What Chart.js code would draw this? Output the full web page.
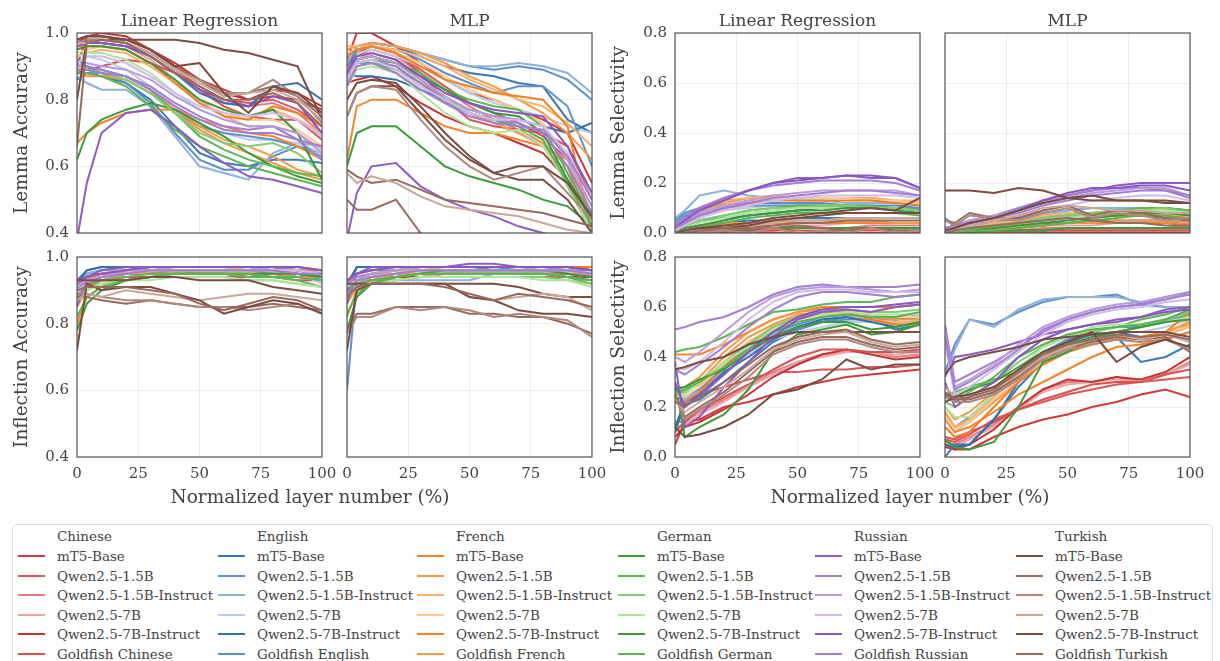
<!DOCTYPE html>
<html lang="en">
<head>
  <meta charset="UTF-8" />
  <title>Lemma and inflection probes by layer</title>
  <script src="https://cdn.jsdelivr.net/npm/chart.js"></script>
  <style>
    body { margin: 0; background: #fff; font-family: "DejaVu Serif", serif; color: #444; }
    #fig { position: relative; width: 1220px; height: 661px; overflow: hidden; }
    .panel { position: absolute; }
    .lbl { position: absolute; white-space: nowrap; transform: translateX(-50%); line-height: 1.2; }
    .ptitle { font-size: 17px; }
    .xtitle { font-size: 18.5px; }
    #legend { position: absolute; left: 12px; top: 524px; width: 1199px; height: 145px;
              border: 1px solid #dcdcdc; border-radius: 5px; }
    .lg-text { position: absolute; font-size: 13.5px; line-height: 16px; margin-top: -8px; white-space: nowrap; color: #444; }
    .lg-line { position: absolute; width: 27px; height: 2px; margin-top: -1px; }
  </style>
</head>
<body>
<div id="fig"></div>
<script>
  const LANGS = ['Chinese', 'English', 'French', 'German', 'Russian', 'Turkish'];
  const MODELS = ['mT5-Base', 'Qwen2.5-1.5B', 'Qwen2.5-1.5B-Instruct', 'Qwen2.5-7B', 'Qwen2.5-7B-Instruct', 'Goldfish'];
  const COLORS = [
    ['#d03a3a', '#dc5656', '#e27d7d', '#eaa5aa', '#c63232', '#d9514e'],
    ['#3a78b5', '#5b8fcb', '#8eb2da', '#bccce3', '#3570b0', '#5e92c8'],
    ['#f5842b', '#f79a48', '#f9b06c', '#fbc995', '#f37f22', '#f69845'],
    ['#3a9c3a', '#5cb854', '#82cc73', '#aee3a0', '#3c983c', '#5cb450'],
    ['#8c5cc2', '#a47ed2', '#b99ade', '#d2bbe9', '#8a56c0', '#a47ed2'],
    ['#7b4d43', '#98695e', '#b0897e', '#c9a898', '#7a4b41', '#98695e']
  ];
  // normalized layer positions (%)
  const X = [0, 4, 10, 20, 30, 40, 50, 60, 70, 80, 90, 100];
  const X_TICKS = [0, 25, 50, 75, 100];

  // rows: language by language, models in MODELS order
  const lemmaAccLR = [
    [0.90,0.99,1.00,0.99,0.95,0.90,0.86,0.83,0.80,0.81,0.80,0.77],
    [0.97,0.98,0.98,0.97,0.94,0.89,0.84,0.80,0.79,0.80,0.77,0.72],
    [0.97,0.97,0.98,0.97,0.93,0.88,0.83,0.79,0.78,0.79,0.76,0.70],
    [0.96,0.97,0.97,0.96,0.92,0.86,0.80,0.75,0.72,0.72,0.70,0.65],
    [0.97,0.99,0.99,0.98,0.95,0.91,0.86,0.82,0.80,0.83,0.82,0.78],
    [0.88,0.89,0.90,0.92,0.91,0.88,0.83,0.78,0.75,0.74,0.74,0.68],
    [0.86,0.88,0.87,0.85,0.80,0.72,0.64,0.61,0.60,0.62,0.62,0.61],
    [0.92,0.90,0.88,0.85,0.79,0.70,0.62,0.59,0.59,0.63,0.66,0.64],
    [0.87,0.85,0.83,0.83,0.78,0.69,0.60,0.58,0.56,0.64,0.67,0.66],
    [0.93,0.93,0.92,0.89,0.84,0.78,0.72,0.70,0.68,0.68,0.67,0.64],
    [0.97,0.98,0.97,0.96,0.93,0.88,0.82,0.79,0.78,0.84,0.85,0.80],
    [0.88,0.88,0.88,0.86,0.82,0.76,0.72,0.70,0.69,0.68,0.66,0.63],
    [0.67,0.70,0.73,0.76,0.77,0.77,0.74,0.72,0.70,0.69,0.66,0.62],
    [0.89,0.89,0.88,0.87,0.83,0.77,0.72,0.68,0.66,0.63,0.59,0.57],
    [0.93,0.94,0.95,0.94,0.90,0.85,0.80,0.77,0.75,0.77,0.74,0.70],
    [0.94,0.95,0.96,0.95,0.91,0.85,0.79,0.76,0.74,0.74,0.71,0.66],
    [0.96,0.96,0.96,0.95,0.91,0.85,0.79,0.75,0.74,0.78,0.76,0.72],
    [0.88,0.87,0.87,0.86,0.82,0.76,0.71,0.67,0.64,0.61,0.58,0.56],
    [0.62,0.70,0.74,0.77,0.79,0.77,0.73,0.69,0.64,0.60,0.57,0.55],
    [0.90,0.90,0.89,0.87,0.83,0.76,0.69,0.65,0.62,0.60,0.58,0.57],
    [0.89,0.89,0.88,0.86,0.82,0.76,0.70,0.67,0.66,0.67,0.64,0.58],
    [0.93,0.94,0.94,0.92,0.88,0.82,0.77,0.74,0.72,0.72,0.68,0.62],
    [0.95,0.96,0.96,0.95,0.91,0.86,0.80,0.77,0.75,0.77,0.70,0.56],
    [0.88,0.88,0.87,0.84,0.78,0.71,0.66,0.63,0.60,0.58,0.56,0.54],
    [0.38,0.55,0.70,0.76,0.77,0.72,0.66,0.61,0.57,0.56,0.54,0.52],
    [0.90,0.90,0.89,0.87,0.84,0.79,0.75,0.72,0.71,0.72,0.68,0.62],
    [0.90,0.91,0.90,0.89,0.86,0.81,0.77,0.74,0.72,0.72,0.70,0.64],
    [0.91,0.93,0.93,0.91,0.87,0.82,0.78,0.76,0.75,0.76,0.74,0.69],
    [0.96,0.97,0.97,0.96,0.93,0.88,0.83,0.80,0.78,0.81,0.79,0.70],
    [0.89,0.89,0.88,0.87,0.83,0.78,0.74,0.71,0.70,0.70,0.68,0.66],
    [0.80,0.98,0.98,0.98,0.98,0.98,0.97,0.95,0.94,0.92,0.90,0.74],
    [0.98,0.99,0.99,0.98,0.95,0.90,0.86,0.81,0.82,0.84,0.81,0.75],
    [0.97,0.98,0.98,0.97,0.94,0.89,0.86,0.82,0.82,0.86,0.81,0.73],
    [0.97,0.97,0.98,0.97,0.94,0.89,0.85,0.81,0.82,0.83,0.80,0.74],
    [0.98,0.99,0.99,0.98,0.95,0.90,0.91,0.82,0.76,0.84,0.82,0.76],
    [0.66,0.97,0.98,0.97,0.93,0.88,0.84,0.80,0.80,0.82,0.79,0.72]
  ];

  const lemmaAccMLP = [
    [0.92,1.00,1.00,0.96,0.91,0.86,0.82,0.80,0.77,0.74,0.70,0.55],
    [0.90,0.94,0.96,0.94,0.89,0.84,0.79,0.76,0.73,0.69,0.62,0.45],
    [0.89,0.93,0.95,0.93,0.88,0.83,0.78,0.74,0.71,0.67,0.60,0.42],
    [0.88,0.92,0.94,0.92,0.86,0.80,0.76,0.73,0.70,0.66,0.58,0.40],
    [0.85,0.86,0.87,0.84,0.79,0.75,0.72,0.70,0.67,0.64,0.56,0.45],
    [0.90,0.95,0.96,0.94,0.88,0.80,0.74,0.72,0.71,0.70,0.66,0.50],
    [0.86,0.96,0.97,0.96,0.93,0.90,0.88,0.87,0.85,0.84,0.74,0.70],
    [0.90,0.96,0.97,0.96,0.94,0.92,0.90,0.89,0.90,0.89,0.86,0.80],
    [0.91,0.96,0.97,0.96,0.94,0.92,0.90,0.90,0.91,0.90,0.88,0.82],
    [0.86,0.94,0.95,0.93,0.90,0.86,0.82,0.79,0.77,0.75,0.72,0.70],
    [0.88,0.87,0.87,0.86,0.83,0.80,0.77,0.75,0.74,0.72,0.70,0.73],
    [0.85,0.95,0.96,0.95,0.92,0.88,0.85,0.82,0.84,0.84,0.78,0.60],
    [0.62,0.78,0.80,0.80,0.76,0.72,0.70,0.70,0.68,0.66,0.62,0.45],
    [0.95,0.96,0.97,0.96,0.94,0.91,0.87,0.84,0.80,0.76,0.70,0.62],
    [0.96,0.96,0.96,0.95,0.93,0.90,0.86,0.83,0.80,0.78,0.73,0.66],
    [0.94,0.95,0.96,0.94,0.91,0.87,0.83,0.80,0.77,0.73,0.62,0.45],
    [0.93,0.95,0.96,0.94,0.90,0.86,0.84,0.82,0.81,0.80,0.72,0.40],
    [0.88,0.92,0.93,0.91,0.86,0.80,0.76,0.73,0.70,0.67,0.60,0.48],
    [0.60,0.70,0.72,0.72,0.66,0.60,0.57,0.55,0.53,0.50,0.48,0.42],
    [0.86,0.91,0.92,0.91,0.88,0.83,0.80,0.78,0.77,0.72,0.58,0.45],
    [0.85,0.90,0.91,0.90,0.85,0.80,0.77,0.75,0.72,0.68,0.54,0.40],
    [0.84,0.89,0.90,0.88,0.82,0.76,0.72,0.70,0.71,0.66,0.55,0.40],
    [0.87,0.92,0.93,0.91,0.87,0.83,0.79,0.76,0.75,0.70,0.56,0.44],
    [0.86,0.91,0.91,0.89,0.85,0.79,0.76,0.74,0.72,0.68,0.55,0.42],
    [0.38,0.52,0.60,0.61,0.54,0.50,0.47,0.45,0.42,0.40,0.38,0.36],
    [0.86,0.91,0.92,0.90,0.85,0.80,0.76,0.74,0.73,0.70,0.60,0.46],
    [0.87,0.92,0.93,0.91,0.86,0.81,0.77,0.75,0.74,0.72,0.62,0.48],
    [0.86,0.91,0.92,0.89,0.84,0.80,0.76,0.74,0.74,0.72,0.64,0.50],
    [0.88,0.93,0.94,0.92,0.87,0.82,0.79,0.77,0.76,0.75,0.66,0.52],
    [0.84,0.90,0.91,0.88,0.83,0.79,0.75,0.73,0.72,0.71,0.63,0.50],
    [0.75,0.82,0.84,0.84,0.76,0.68,0.62,0.58,0.56,0.56,0.50,0.40],
    [0.59,0.57,0.55,0.56,0.53,0.50,0.49,0.48,0.47,0.46,0.44,0.42],
    [0.75,0.82,0.84,0.83,0.74,0.66,0.60,0.56,0.58,0.60,0.52,0.44],
    [0.58,0.55,0.57,0.55,0.51,0.48,0.47,0.46,0.45,0.43,0.41,0.40],
    [0.80,0.85,0.86,0.85,0.78,0.70,0.63,0.58,0.60,0.60,0.55,0.45],
    [0.50,0.47,0.47,0.50,0.40,0.36,0.34,0.32,0.30,0.30,0.30,0.30]
  ];

  const lemmaSelLR = [
    [0.00,0.00,0.00,0.00,0.00,0.00,0.00,0.00,0.00,0.00,0.00,0.00],
    [0.01,0.01,0.02,0.02,0.02,0.02,0.02,0.02,0.02,0.02,0.02,0.02],
    [0.01,0.01,0.01,0.02,0.02,0.02,0.02,0.02,0.02,0.03,0.03,0.03],
    [0.01,0.02,0.02,0.03,0.03,0.03,0.03,0.03,0.04,0.04,0.04,0.04],
    [0.00,0.01,0.01,0.01,0.01,0.01,0.02,0.02,0.02,0.02,0.02,0.02],
    [0.00,0.00,0.00,0.01,0.01,0.01,0.01,0.01,0.01,0.01,0.01,0.01],
    [0.01,0.02,0.03,0.04,0.05,0.05,0.06,0.06,0.06,0.06,0.06,0.06],
    [0.05,0.08,0.10,0.11,0.12,0.12,0.12,0.12,0.11,0.11,0.11,0.10],
    [0.06,0.09,0.15,0.17,0.15,0.14,0.13,0.13,0.12,0.12,0.12,0.11],
    [0.03,0.05,0.07,0.09,0.10,0.11,0.11,0.11,0.11,0.10,0.10,0.10],
    [0.02,0.03,0.05,0.06,0.07,0.08,0.09,0.10,0.10,0.10,0.10,0.09],
    [0.04,0.07,0.09,0.10,0.11,0.11,0.11,0.11,0.11,0.10,0.10,0.10],
    [0.00,0.01,0.02,0.03,0.03,0.04,0.04,0.04,0.04,0.04,0.04,0.04],
    [0.03,0.06,0.09,0.12,0.14,0.14,0.14,0.14,0.14,0.14,0.13,0.12],
    [0.03,0.06,0.10,0.13,0.14,0.15,0.14,0.14,0.14,0.14,0.13,0.13],
    [0.02,0.05,0.08,0.11,0.13,0.14,0.14,0.14,0.14,0.13,0.13,0.12],
    [0.02,0.04,0.07,0.10,0.12,0.13,0.13,0.13,0.13,0.13,0.12,0.11],
    [0.01,0.02,0.03,0.04,0.04,0.05,0.05,0.05,0.05,0.05,0.04,0.04],
    [0.00,0.01,0.01,0.01,0.01,0.02,0.02,0.02,0.02,0.02,0.02,0.02],
    [0.01,0.03,0.05,0.07,0.09,0.10,0.11,0.11,0.11,0.11,0.10,0.09],
    [0.01,0.03,0.05,0.07,0.09,0.10,0.10,0.11,0.11,0.10,0.10,0.09],
    [0.01,0.02,0.04,0.06,0.08,0.09,0.10,0.10,0.10,0.10,0.09,0.08],
    [0.01,0.02,0.03,0.05,0.07,0.08,0.09,0.09,0.10,0.10,0.09,0.08],
    [0.00,0.01,0.02,0.04,0.06,0.07,0.08,0.08,0.08,0.08,0.08,0.07],
    [0.02,0.06,0.10,0.14,0.17,0.20,0.22,0.22,0.23,0.23,0.22,0.18],
    [0.03,0.06,0.10,0.14,0.17,0.19,0.20,0.21,0.21,0.21,0.20,0.17],
    [0.02,0.05,0.08,0.11,0.13,0.15,0.16,0.17,0.17,0.17,0.17,0.15],
    [0.01,0.03,0.06,0.09,0.11,0.13,0.14,0.15,0.15,0.15,0.15,0.14],
    [0.02,0.05,0.09,0.13,0.17,0.20,0.21,0.22,0.23,0.22,0.22,0.18],
    [0.02,0.04,0.07,0.10,0.12,0.14,0.15,0.16,0.17,0.17,0.16,0.15],
    [0.00,0.01,0.02,0.03,0.04,0.06,0.07,0.08,0.09,0.10,0.09,0.14],
    [0.00,0.00,0.01,0.01,0.01,0.02,0.03,0.02,0.01,0.02,0.01,0.01],
    [0.00,0.00,0.00,0.01,0.00,0.02,0.00,0.01,0.00,0.02,0.00,0.01],
    [0.00,0.01,0.01,0.02,0.03,0.04,0.05,0.05,0.06,0.06,0.06,0.06],
    [0.00,0.01,0.02,0.02,0.03,0.05,0.06,0.07,0.08,0.08,0.08,0.08],
    [0.00,0.00,0.01,0.02,0.02,0.03,0.04,0.04,0.05,0.05,0.05,0.05]
  ];

  const lemmaSelMLP = [
    [0.00,0.00,0.00,0.00,0.00,0.00,0.00,0.00,0.00,0.00,0.00,0.00],
    [0.00,0.00,0.01,0.01,0.01,0.01,0.02,0.02,0.02,0.02,0.02,0.02],
    [0.00,0.00,0.01,0.01,0.01,0.02,0.02,0.02,0.02,0.02,0.02,0.03],
    [0.00,0.01,0.01,0.02,0.02,0.03,0.03,0.03,0.04,0.04,0.04,0.04],
    [0.00,0.00,0.00,0.01,0.01,0.01,0.01,0.01,0.01,0.01,0.01,0.01],
    [0.00,0.00,0.00,0.00,0.00,0.01,0.01,0.01,0.01,0.01,0.01,0.01],
    [0.01,0.01,0.02,0.02,0.03,0.04,0.04,0.05,0.05,0.05,0.05,0.04],
    [0.06,0.03,0.04,0.05,0.06,0.08,0.09,0.10,0.10,0.10,0.10,0.09],
    [0.05,0.03,0.04,0.05,0.07,0.08,0.09,0.10,0.10,0.10,0.10,0.09],
    [0.02,0.02,0.03,0.04,0.05,0.06,0.07,0.08,0.08,0.08,0.07,0.06],
    [0.01,0.01,0.02,0.03,0.04,0.05,0.06,0.07,0.07,0.07,0.06,0.05],
    [0.02,0.02,0.03,0.04,0.06,0.07,0.08,0.08,0.09,0.08,0.08,0.07],
    [0.00,0.00,0.01,0.02,0.03,0.03,0.04,0.04,0.04,0.04,0.04,0.03],
    [0.01,0.01,0.02,0.03,0.05,0.06,0.07,0.08,0.08,0.09,0.09,0.08],
    [0.01,0.01,0.02,0.04,0.05,0.07,0.08,0.08,0.09,0.09,0.09,0.08],
    [0.00,0.01,0.02,0.03,0.04,0.05,0.06,0.07,0.08,0.08,0.08,0.07],
    [0.00,0.01,0.01,0.02,0.03,0.05,0.06,0.06,0.07,0.07,0.07,0.06],
    [0.00,0.00,0.01,0.01,0.02,0.03,0.04,0.04,0.05,0.05,0.05,0.04],
    [0.00,0.00,0.00,0.01,0.01,0.01,0.02,0.02,0.02,0.02,0.02,0.02],
    [0.01,0.01,0.02,0.03,0.04,0.06,0.07,0.08,0.09,0.10,0.10,0.09],
    [0.01,0.01,0.02,0.03,0.04,0.06,0.07,0.08,0.09,0.09,0.10,0.08],
    [0.00,0.01,0.01,0.02,0.03,0.05,0.06,0.07,0.08,0.09,0.09,0.08],
    [0.00,0.00,0.01,0.02,0.03,0.04,0.05,0.06,0.07,0.08,0.08,0.07],
    [0.00,0.00,0.01,0.01,0.02,0.03,0.04,0.05,0.06,0.07,0.07,0.05],
    [0.01,0.02,0.04,0.06,0.09,0.13,0.15,0.17,0.19,0.20,0.20,0.20],
    [0.02,0.03,0.05,0.07,0.10,0.13,0.15,0.17,0.18,0.18,0.17,0.14],
    [0.02,0.03,0.05,0.07,0.09,0.12,0.14,0.16,0.17,0.18,0.18,0.15],
    [0.01,0.02,0.03,0.05,0.07,0.09,0.11,0.13,0.14,0.15,0.15,0.13],
    [0.01,0.02,0.04,0.06,0.09,0.13,0.16,0.18,0.18,0.19,0.19,0.17],
    [0.02,0.03,0.04,0.06,0.08,0.11,0.13,0.15,0.16,0.17,0.17,0.15],
    [0.17,0.17,0.17,0.16,0.18,0.17,0.14,0.13,0.13,0.13,0.13,0.12],
    [0.05,0.04,0.08,0.06,0.06,0.09,0.11,0.07,0.09,0.08,0.06,0.05],
    [0.05,0.03,0.07,0.06,0.05,0.08,0.10,0.06,0.08,0.07,0.05,0.06],
    [0.01,0.02,0.03,0.05,0.07,0.10,0.11,0.10,0.09,0.09,0.08,0.08],
    [0.01,0.02,0.04,0.06,0.09,0.12,0.14,0.15,0.13,0.13,0.12,0.12],
    [0.00,0.01,0.02,0.03,0.04,0.05,0.06,0.05,0.04,0.04,0.03,0.03]
  ];

  const inflAccLR = [
    [0.91,0.92,0.93,0.93,0.94,0.94,0.94,0.94,0.94,0.94,0.94,0.93],
    [0.92,0.94,0.95,0.95,0.95,0.95,0.95,0.95,0.95,0.95,0.95,0.94],
    [0.92,0.94,0.95,0.95,0.95,0.96,0.95,0.95,0.95,0.95,0.95,0.94],
    [0.92,0.93,0.94,0.95,0.95,0.95,0.95,0.95,0.95,0.95,0.94,0.94],
    [0.92,0.94,0.95,0.95,0.95,0.95,0.95,0.95,0.94,0.95,0.94,0.94],
    [0.90,0.92,0.93,0.94,0.94,0.94,0.94,0.94,0.94,0.94,0.93,0.93],
    [0.93,0.96,0.97,0.97,0.97,0.97,0.97,0.97,0.97,0.97,0.96,0.95],
    [0.91,0.95,0.96,0.97,0.97,0.97,0.97,0.97,0.97,0.96,0.96,0.94],
    [0.90,0.95,0.96,0.96,0.97,0.97,0.97,0.97,0.96,0.96,0.95,0.93],
    [0.89,0.93,0.95,0.96,0.96,0.96,0.96,0.96,0.96,0.95,0.95,0.92],
    [0.92,0.96,0.97,0.97,0.97,0.97,0.97,0.97,0.97,0.97,0.96,0.95],
    [0.90,0.94,0.95,0.96,0.96,0.96,0.96,0.96,0.96,0.95,0.95,0.93],
    [0.80,0.88,0.91,0.95,0.96,0.96,0.96,0.96,0.96,0.96,0.96,0.96],
    [0.92,0.93,0.95,0.96,0.97,0.97,0.97,0.97,0.97,0.97,0.96,0.96],
    [0.92,0.93,0.95,0.96,0.96,0.97,0.97,0.97,0.96,0.96,0.96,0.95],
    [0.91,0.93,0.94,0.95,0.96,0.96,0.96,0.96,0.96,0.96,0.95,0.95],
    [0.92,0.94,0.95,0.96,0.97,0.97,0.97,0.97,0.97,0.97,0.96,0.96],
    [0.85,0.90,0.93,0.95,0.95,0.95,0.95,0.95,0.95,0.95,0.94,0.94],
    [0.78,0.86,0.90,0.93,0.94,0.95,0.95,0.95,0.95,0.95,0.95,0.94],
    [0.88,0.91,0.93,0.94,0.95,0.95,0.95,0.95,0.94,0.94,0.93,0.91],
    [0.87,0.90,0.92,0.93,0.94,0.94,0.94,0.94,0.93,0.93,0.92,0.91],
    [0.86,0.90,0.92,0.93,0.93,0.94,0.94,0.94,0.93,0.93,0.92,0.91],
    [0.90,0.93,0.94,0.95,0.96,0.96,0.96,0.96,0.96,0.96,0.95,0.94],
    [0.82,0.88,0.91,0.93,0.94,0.95,0.95,0.95,0.95,0.94,0.94,0.93],
    [0.85,0.94,0.96,0.97,0.97,0.97,0.97,0.97,0.97,0.97,0.97,0.96],
    [0.92,0.93,0.94,0.96,0.97,0.97,0.97,0.97,0.97,0.97,0.96,0.95],
    [0.91,0.93,0.94,0.96,0.96,0.97,0.97,0.97,0.97,0.96,0.96,0.95],
    [0.90,0.92,0.94,0.95,0.96,0.96,0.96,0.96,0.96,0.96,0.96,0.95],
    [0.93,0.94,0.95,0.96,0.97,0.97,0.97,0.97,0.97,0.97,0.97,0.96],
    [0.88,0.92,0.94,0.95,0.96,0.96,0.96,0.96,0.96,0.96,0.95,0.95],
    [0.93,0.93,0.93,0.93,0.94,0.94,0.93,0.93,0.93,0.91,0.90,0.89],
    [0.88,0.88,0.87,0.86,0.87,0.86,0.85,0.85,0.85,0.86,0.85,0.84],
    [0.89,0.89,0.88,0.87,0.87,0.86,0.85,0.85,0.84,0.85,0.86,0.83],
    [0.87,0.89,0.88,0.90,0.89,0.88,0.87,0.88,0.89,0.89,0.88,0.87],
    [0.72,0.92,0.90,0.91,0.91,0.89,0.87,0.83,0.85,0.87,0.86,0.83],
    [0.90,0.91,0.91,0.91,0.90,0.89,0.86,0.84,0.86,0.88,0.87,0.84]
  ];

  const inflAccMLP = [
    [0.92,0.93,0.93,0.94,0.94,0.95,0.95,0.95,0.95,0.95,0.95,0.94],
    [0.92,0.93,0.94,0.95,0.95,0.95,0.95,0.95,0.95,0.95,0.95,0.95],
    [0.92,0.93,0.94,0.94,0.95,0.95,0.95,0.95,0.95,0.95,0.95,0.94],
    [0.91,0.93,0.93,0.94,0.94,0.95,0.95,0.95,0.95,0.95,0.94,0.94],
    [0.91,0.92,0.93,0.94,0.94,0.94,0.94,0.94,0.94,0.94,0.94,0.94],
    [0.90,0.92,0.93,0.93,0.94,0.94,0.94,0.94,0.94,0.94,0.94,0.93],
    [0.90,0.97,0.97,0.97,0.97,0.97,0.97,0.97,0.97,0.97,0.97,0.96],
    [0.60,0.93,0.95,0.96,0.96,0.96,0.96,0.97,0.96,0.96,0.96,0.95],
    [0.88,0.93,0.93,0.93,0.93,0.93,0.93,0.95,0.95,0.95,0.94,0.93],
    [0.89,0.94,0.95,0.96,0.96,0.96,0.96,0.96,0.96,0.96,0.95,0.94],
    [0.92,0.97,0.97,0.97,0.97,0.97,0.97,0.97,0.97,0.97,0.97,0.96],
    [0.90,0.95,0.96,0.96,0.96,0.96,0.96,0.96,0.96,0.96,0.95,0.94],
    [0.82,0.90,0.94,0.96,0.97,0.97,0.97,0.97,0.97,0.97,0.97,0.97],
    [0.92,0.93,0.95,0.96,0.97,0.97,0.97,0.97,0.97,0.97,0.97,0.97],
    [0.92,0.93,0.94,0.96,0.96,0.97,0.97,0.97,0.97,0.97,0.96,0.96],
    [0.91,0.93,0.94,0.95,0.96,0.96,0.96,0.96,0.96,0.96,0.96,0.95],
    [0.92,0.95,0.96,0.97,0.97,0.97,0.97,0.97,0.97,0.97,0.97,0.97],
    [0.86,0.91,0.93,0.95,0.95,0.96,0.96,0.96,0.96,0.96,0.95,0.95],
    [0.78,0.88,0.92,0.94,0.95,0.96,0.96,0.96,0.96,0.96,0.96,0.95],
    [0.90,0.92,0.93,0.94,0.95,0.95,0.95,0.95,0.95,0.95,0.94,0.92],
    [0.89,0.91,0.92,0.93,0.94,0.94,0.94,0.94,0.94,0.94,0.93,0.92],
    [0.88,0.91,0.92,0.93,0.94,0.94,0.94,0.94,0.94,0.93,0.93,0.91],
    [0.90,0.93,0.94,0.95,0.96,0.96,0.96,0.96,0.96,0.96,0.95,0.94],
    [0.83,0.89,0.92,0.94,0.95,0.95,0.95,0.95,0.95,0.95,0.94,0.93],
    [0.86,0.95,0.97,0.97,0.97,0.97,0.98,0.98,0.97,0.97,0.97,0.96],
    [0.92,0.94,0.95,0.96,0.97,0.97,0.97,0.97,0.97,0.97,0.96,0.96],
    [0.91,0.93,0.95,0.96,0.97,0.97,0.97,0.97,0.97,0.96,0.96,0.95],
    [0.91,0.93,0.94,0.95,0.96,0.96,0.96,0.96,0.96,0.96,0.96,0.95],
    [0.93,0.95,0.96,0.97,0.97,0.97,0.97,0.97,0.97,0.97,0.97,0.96],
    [0.89,0.93,0.94,0.95,0.96,0.96,0.96,0.96,0.96,0.96,0.96,0.95],
    [0.92,0.92,0.92,0.92,0.92,0.92,0.92,0.92,0.91,0.89,0.88,0.88],
    [0.78,0.83,0.83,0.85,0.85,0.85,0.83,0.83,0.82,0.82,0.80,0.77],
    [0.77,0.82,0.82,0.85,0.84,0.85,0.84,0.82,0.83,0.82,0.81,0.76],
    [0.88,0.91,0.92,0.92,0.92,0.92,0.88,0.87,0.88,0.89,0.88,0.84],
    [0.72,0.90,0.92,0.92,0.92,0.92,0.88,0.87,0.84,0.83,0.83,0.82],
    [0.88,0.91,0.92,0.92,0.92,0.91,0.89,0.87,0.89,0.88,0.87,0.85]
  ];

  const inflSelLR = [
    [0.05,0.14,0.15,0.20,0.22,0.25,0.28,0.30,0.32,0.33,0.34,0.35],
    [0.22,0.22,0.25,0.28,0.31,0.34,0.34,0.35,0.35,0.36,0.36,0.37],
    [0.14,0.14,0.18,0.23,0.28,0.34,0.38,0.41,0.42,0.42,0.40,0.41],
    [0.12,0.13,0.17,0.22,0.28,0.33,0.38,0.40,0.42,0.42,0.41,0.42],
    [0.08,0.12,0.14,0.19,0.25,0.32,0.37,0.41,0.43,0.41,0.39,0.40],
    [0.10,0.14,0.19,0.24,0.29,0.35,0.40,0.43,0.43,0.42,0.42,0.43],
    [0.10,0.21,0.23,0.30,0.38,0.46,0.51,0.54,0.56,0.55,0.51,0.53],
    [0.25,0.22,0.24,0.33,0.42,0.48,0.51,0.54,0.55,0.55,0.55,0.56],
    [0.26,0.23,0.26,0.35,0.44,0.49,0.52,0.55,0.56,0.56,0.55,0.57],
    [0.22,0.22,0.25,0.33,0.41,0.47,0.50,0.52,0.54,0.54,0.53,0.55],
    [0.12,0.22,0.25,0.34,0.40,0.47,0.52,0.55,0.56,0.54,0.52,0.54],
    [0.25,0.24,0.27,0.36,0.44,0.50,0.53,0.56,0.57,0.56,0.55,0.56],
    [0.41,0.41,0.41,0.45,0.50,0.55,0.58,0.60,0.60,0.60,0.60,0.61],
    [0.27,0.26,0.30,0.40,0.48,0.53,0.57,0.58,0.57,0.56,0.55,0.55],
    [0.27,0.26,0.29,0.38,0.46,0.52,0.56,0.57,0.57,0.55,0.54,0.54],
    [0.24,0.24,0.28,0.37,0.45,0.52,0.56,0.58,0.58,0.57,0.56,0.56],
    [0.22,0.22,0.26,0.36,0.45,0.51,0.55,0.58,0.58,0.55,0.53,0.53],
    [0.28,0.28,0.32,0.42,0.50,0.55,0.58,0.59,0.59,0.58,0.60,0.61],
    [0.30,0.08,0.12,0.17,0.27,0.42,0.49,0.51,0.53,0.49,0.50,0.53],
    [0.42,0.43,0.44,0.48,0.53,0.58,0.59,0.61,0.62,0.62,0.64,0.65],
    [0.25,0.26,0.30,0.38,0.45,0.52,0.56,0.58,0.59,0.58,0.58,0.59],
    [0.24,0.25,0.30,0.38,0.44,0.51,0.55,0.57,0.58,0.57,0.57,0.57],
    [0.27,0.28,0.31,0.35,0.42,0.48,0.52,0.54,0.54,0.51,0.52,0.54],
    [0.26,0.27,0.30,0.36,0.43,0.50,0.54,0.56,0.57,0.56,0.56,0.58],
    [0.38,0.12,0.16,0.28,0.38,0.48,0.55,0.58,0.59,0.58,0.60,0.61],
    [0.51,0.52,0.54,0.56,0.60,0.65,0.68,0.69,0.68,0.68,0.68,0.69],
    [0.40,0.38,0.42,0.50,0.58,0.64,0.67,0.68,0.68,0.67,0.66,0.67],
    [0.36,0.35,0.38,0.46,0.55,0.62,0.66,0.67,0.67,0.66,0.66,0.66],
    [0.30,0.20,0.25,0.33,0.42,0.50,0.56,0.59,0.60,0.60,0.61,0.62],
    [0.35,0.33,0.37,0.44,0.52,0.59,0.64,0.66,0.66,0.65,0.64,0.65],
    [0.35,0.36,0.38,0.40,0.45,0.48,0.50,0.50,0.50,0.50,0.50,0.50],
    [0.25,0.16,0.20,0.26,0.34,0.42,0.46,0.48,0.48,0.45,0.43,0.44],
    [0.24,0.15,0.19,0.25,0.32,0.41,0.45,0.47,0.47,0.44,0.42,0.42],
    [0.23,0.18,0.22,0.28,0.35,0.43,0.47,0.49,0.50,0.46,0.44,0.45],
    [0.12,0.08,0.09,0.12,0.17,0.25,0.27,0.31,0.39,0.35,0.37,0.37],
    [0.22,0.20,0.24,0.30,0.37,0.44,0.48,0.50,0.51,0.47,0.45,0.46]
  ];

  const inflSelMLP = [
    [0.05,0.03,0.03,0.08,0.12,0.15,0.17,0.20,0.22,0.25,0.27,0.24],
    [0.07,0.06,0.09,0.15,0.19,0.22,0.25,0.27,0.29,0.30,0.31,0.32],
    [0.06,0.05,0.08,0.13,0.20,0.27,0.30,0.30,0.32,0.30,0.33,0.38],
    [0.05,0.04,0.07,0.12,0.19,0.26,0.29,0.30,0.31,0.30,0.33,0.37],
    [0.04,0.03,0.05,0.11,0.20,0.27,0.31,0.30,0.32,0.31,0.34,0.40],
    [0.08,0.07,0.10,0.14,0.19,0.23,0.26,0.29,0.30,0.30,0.33,0.35],
    [0.00,0.05,0.05,0.15,0.28,0.38,0.45,0.50,0.48,0.38,0.40,0.45],
    [0.34,0.45,0.55,0.53,0.58,0.62,0.64,0.64,0.65,0.61,0.60,0.60],
    [0.32,0.43,0.55,0.52,0.59,0.63,0.64,0.64,0.64,0.62,0.60,0.60],
    [0.15,0.10,0.14,0.22,0.32,0.40,0.45,0.48,0.50,0.50,0.52,0.55],
    [0.05,0.04,0.05,0.15,0.30,0.40,0.46,0.49,0.50,0.48,0.47,0.50],
    [0.18,0.12,0.16,0.25,0.34,0.42,0.47,0.50,0.52,0.52,0.54,0.57],
    [0.15,0.10,0.12,0.18,0.25,0.30,0.35,0.40,0.44,0.45,0.47,0.50],
    [0.18,0.12,0.14,0.22,0.30,0.38,0.42,0.46,0.48,0.48,0.50,0.53],
    [0.17,0.12,0.15,0.24,0.33,0.40,0.44,0.47,0.48,0.47,0.49,0.52],
    [0.16,0.11,0.14,0.23,0.31,0.38,0.43,0.46,0.47,0.46,0.48,0.55],
    [0.12,0.08,0.10,0.20,0.30,0.37,0.42,0.45,0.47,0.48,0.50,0.58],
    [0.20,0.15,0.18,0.26,0.33,0.40,0.44,0.47,0.48,0.47,0.50,0.54],
    [0.07,0.04,0.03,0.06,0.20,0.38,0.42,0.47,0.50,0.52,0.55,0.58],
    [0.25,0.26,0.28,0.31,0.34,0.42,0.46,0.50,0.52,0.55,0.57,0.60],
    [0.22,0.20,0.24,0.30,0.38,0.44,0.48,0.50,0.52,0.53,0.55,0.58],
    [0.20,0.16,0.16,0.25,0.35,0.44,0.48,0.52,0.53,0.53,0.54,0.56],
    [0.25,0.24,0.27,0.30,0.36,0.42,0.45,0.48,0.50,0.52,0.54,0.55],
    [0.24,0.22,0.26,0.32,0.40,0.45,0.49,0.51,0.52,0.53,0.55,0.59],
    [0.32,0.40,0.41,0.43,0.46,0.49,0.51,0.53,0.55,0.56,0.59,0.60],
    [0.53,0.30,0.33,0.38,0.44,0.50,0.55,0.58,0.60,0.61,0.64,0.66],
    [0.50,0.28,0.31,0.37,0.45,0.52,0.56,0.59,0.61,0.62,0.64,0.65],
    [0.45,0.25,0.28,0.35,0.42,0.49,0.54,0.57,0.59,0.60,0.62,0.63],
    [0.30,0.20,0.24,0.30,0.40,0.47,0.51,0.53,0.54,0.56,0.58,0.59],
    [0.48,0.27,0.30,0.36,0.43,0.51,0.55,0.58,0.60,0.61,0.63,0.65],
    [0.33,0.38,0.40,0.42,0.44,0.47,0.48,0.49,0.50,0.50,0.50,0.48],
    [0.25,0.23,0.23,0.26,0.32,0.40,0.44,0.46,0.48,0.47,0.48,0.42],
    [0.24,0.22,0.22,0.25,0.31,0.39,0.43,0.45,0.47,0.46,0.47,0.43],
    [0.28,0.24,0.25,0.28,0.33,0.40,0.44,0.47,0.49,0.47,0.49,0.46],
    [0.22,0.24,0.25,0.28,0.35,0.42,0.46,0.50,0.38,0.44,0.47,0.44],
    [0.26,0.23,0.24,0.27,0.34,0.41,0.45,0.47,0.49,0.48,0.49,0.47]
  ];

  const FONT = 'DejaVu Serif';
  const PLOT_W = 245, PLOT_H = 200, AXIS_W = 77, AXIS_H = 40, PAD_T = 12, PAD_R = 20;

  const panels = [
    { data: lemmaAccLR,  x: 77,  y: 33,  min: 0.4, max: 1.0, ytitle: 'Lemma Accuracy', tpad: 11, showX: false, showY: true, title: 'Linear Regression' },
    { data: lemmaAccMLP, x: 347, y: 33,  min: 0.4, max: 1.0, showX: false, showY: false, title: 'MLP' },
    { data: lemmaSelLR,  x: 675, y: 33,  min: 0.0, max: 0.8, ytitle: 'Lemma Selectivity', tpad: 10, showX: false, showY: true, title: 'Linear Regression' },
    { data: lemmaSelMLP, x: 945, y: 33,  min: 0.0, max: 0.8, showX: false, showY: false, title: 'MLP' },
    { data: inflAccLR,   x: 77,  y: 257, min: 0.4, max: 1.0, ytitle: 'Inflection Accuracy', tpad: 11, showX: true, showY: true },
    { data: inflAccMLP,  x: 347, y: 257, min: 0.4, max: 1.0, showX: true, showY: false },
    { data: inflSelLR,   x: 675, y: 257, min: 0.0, max: 0.8, ytitle: 'Inflection Selectivity', tpad: 10, showX: true, showY: true },
    { data: inflSelMLP,  x: 945, y: 257, min: 0.0, max: 0.8, showX: true, showY: false }
  ];

  const fig = document.getElementById('fig');

  // box around each axes, like the matplotlib frame
  const frame = {
    id: 'frame',
    afterDraw(chart) {
      const { ctx, chartArea: a } = chart;
      ctx.save();
      ctx.strokeStyle = '#555';
      ctx.lineWidth = 1.2;
      ctx.strokeRect(a.left, a.top, a.right - a.left, a.bottom - a.top);
      ctx.restore();
    }
  };

  function addLabel(text, cls, cx, top) {
    const d = document.createElement('div');
    d.className = 'lbl ' + cls;
    d.textContent = text;
    d.style.left = cx + 'px';
    d.style.top = top + 'px';
    fig.appendChild(d);
  }

  function makePanel(p) {
    const box = document.createElement('div');
    box.className = 'panel';
    box.style.left = (p.x - AXIS_W) + 'px';
    box.style.top = (p.y - PAD_T) + 'px';
    box.style.width = (AXIS_W + PLOT_W + PAD_R) + 'px';
    box.style.height = (PAD_T + PLOT_H + AXIS_H) + 'px';
    const canvas = document.createElement('canvas');
    box.appendChild(canvas);
    fig.appendChild(box);

    const datasets = [];
    LANGS.forEach((lang, li) => {
      MODELS.forEach((m, mi) => {
        const row = p.data[li * MODELS.length + mi];
        datasets.push({
          label: lang + ' ' + m,
          data: X.map((x, i) => ({ x, y: row[i] })),
          borderColor: COLORS[li][mi],
          borderWidth: 2,
          pointRadius: 0,
          tension: 0,
          fill: false
        });
      });
    });
    // chart.js paints the first dataset last; matplotlib paints the last one on top
    datasets.reverse();

    const chart = new Chart(canvas, {
      type: 'line',
      data: { datasets },
      options: {
        responsive: true,
        maintainAspectRatio: false,
        animation: false,
        layout: { padding: { top: PAD_T, right: PAD_R, left: 0, bottom: 0 } },
        plugins: { legend: { display: false }, tooltip: { enabled: false } },
        scales: {
          x: {
            type: 'linear', min: 0, max: 100,
            afterBuildTicks: s => { s.ticks = X_TICKS.map(v => ({ value: v })); },
            ticks: { display: p.showX, color: '#444', padding: 8, maxRotation: 0,
                     font: { family: FONT, size: 15 } },
            grid: { color: 'rgba(0,0,0,0.07)', drawTicks: false },
            border: { display: false },
            afterFit: s => { s.height = AXIS_H; }
          },
          y: {
            min: p.min, max: p.max,
            ticks: { display: p.showY, stepSize: 0.2, color: '#444', padding: 8,
                     font: { family: FONT, size: 15 }, callback: v => v.toFixed(1) },
            grid: { color: 'rgba(0,0,0,0.07)', drawTicks: false },
            border: { display: false },
            title: { display: !!p.ytitle, text: p.ytitle || '', color: '#444',
                     font: { family: FONT, size: 18.5 }, padding: { top: p.tpad || 0, bottom: 0 } },
            afterFit: s => { s.width = AXIS_W; }
          }
        }
      },
      plugins: [frame]
    });

    // the layout adds a few px for tick label overflow; move/resize the box so the
    // plot area lands exactly where the original axes are
    const a = chart.chartArea;
    const w = box.clientWidth + PLOT_W - (a.right - a.left);
    const h = box.clientHeight + PLOT_H - (a.bottom - a.top);
    box.style.left = (p.x - a.left) + 'px';
    box.style.top = (p.y - a.top) + 'px';
    box.style.width = w + 'px';
    box.style.height = h + 'px';
    chart.resize();

    if (p.title) addLabel(p.title, 'ptitle', p.x + PLOT_W / 2, 10);
  }

  panels.forEach(makePanel);

  addLabel('Normalized layer number (%)', 'xtitle', 310, 486);
  addLabel('Normalized layer number (%)', 'xtitle', 910, 486);

  // legend: one column per language, header row with no handle
  const legend = document.createElement('div');
  legend.id = 'legend';
  fig.appendChild(legend);
  const COL_X = [5, 205, 404, 605, 802, 1003];
  const ROW_Y = [11, 31, 51, 70, 90, 109, 129];
  LANGS.forEach((lang, li) => {
    const head = document.createElement('div');
    head.className = 'lg-text';
    head.textContent = lang;
    head.style.left = (COL_X[li] + 39) + 'px';
    head.style.top = ROW_Y[0] + 'px';
    legend.appendChild(head);
    MODELS.forEach((m, mi) => {
      const line = document.createElement('div');
      line.className = 'lg-line';
      line.style.background = COLORS[li][mi];
      line.style.left = COL_X[li] + 'px';
      line.style.top = ROW_Y[mi + 1] + 'px';
      legend.appendChild(line);
      const t = document.createElement('div');
      t.className = 'lg-text';
      t.textContent = m === 'Goldfish' ? 'Goldfish ' + lang : m;
      t.style.left = (COL_X[li] + 39) + 'px';
      t.style.top = ROW_Y[mi + 1] + 'px';
      legend.appendChild(t);
    });
  });
</script>
</body>
</html>
